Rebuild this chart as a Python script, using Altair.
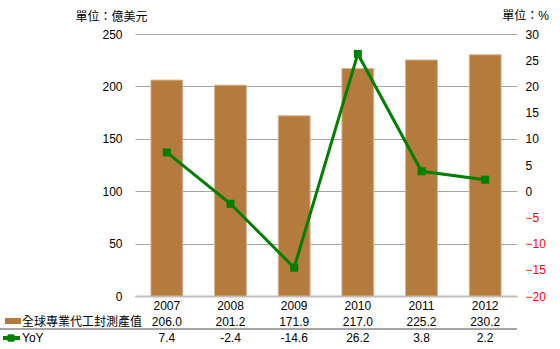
import altair as alt
import pandas as pd

years = ["2007", "2008", "2009", "2010", "2011", "2012"]
output_values = [206.0, 201.2, 171.9, 217.0, 225.2, 230.2]
yoy_values = [7.4, -2.4, -14.6, 26.2, 3.8, 2.2]
left_ticks = [0, 50, 100, 150, 200, 250]
right_ticks = [-20, -15, -10, -5, 0, 5, 10, 15, 20, 25, 30]
series_bar = "全球專業代工封測產值"
series_line = "YoY"

df = pd.DataFrame({
    "year": years,
    "value": output_values,
    "yoy": yoy_values,
})
df["value_label"] = [f"{v:.1f}" for v in output_values]
df["yoy_label"] = [f"{v:.1f}" for v in yoy_values]

FONT = "Liberation Sans, Noto Sans CJK TC"
W, H = 382, 262

xenc = alt.X("year:N", sort=years,
             scale=alt.Scale(paddingInner=0.5, paddingOuter=0.25),
             axis=alt.Axis(title=None, labelAngle=0, ticks=False, domain=True,
                           domainColor="#C0C0C0", domainWidth=2,
                           labelPadding=4, labelFontSize=12, labelColor="black",
                           labelFont=FONT))

bars = alt.Chart(df).mark_bar(color="#B57A3E", stroke="#D8B48E", strokeWidth=1).encode(
    x=xenc,
    y=alt.Y("value:Q", scale=alt.Scale(domain=[0, 250], nice=False),
            axis=alt.Axis(values=left_ticks, title="單位：億美元", titleAngle=0,
                          titleX=-24, titleY=-18, titleAlign="center",
                          titleBaseline="middle", titleFontWeight="normal",
                          titleFontSize=12, titleFont=FONT, titleColor="black",
                          ticks=False, domain=False, labelPadding=13,
                          labelFontSize=12, labelFont=FONT, labelColor="black",
                          grid=True, gridColor="#A6A6A6", gridWidth=1)),
)

yoy_y = alt.Y("yoy:Q", scale=alt.Scale(domain=[-20, 30], nice=False),
              axis=alt.Axis(values=right_ticks, orient="right", title="單位：%",
                            titleAngle=0, titleX=8, titleY=-19, titleAlign="center",
                            titleBaseline="middle", titleFontWeight="normal",
                            titleFontSize=12, titleFont=FONT, titleColor="black",
                            ticks=False, domain=False, grid=False, labelPadding=8,
                            labelFontSize=12, labelFont=FONT,
                            labelColor={"condition": {"test": "datum.value < 0", "value": "#FF0000"},
                                        "value": "black"}))

line = alt.Chart(df).mark_line(color="#008000", strokeWidth=3).encode(x=xenc, y=yoy_y)
pts = alt.Chart(df).mark_point(shape="square", filled=True, color="#008000",
                               size=64, opacity=1).encode(x=xenc, y=yoy_y)

right = alt.layer(line, pts)

row1 = alt.Chart(df).mark_text(font=FONT, fontSize=12, color="black", baseline="middle").encode(
    x=alt.X("year:N", sort=years), y=alt.value(288), text="value_label:N")
row2 = alt.Chart(df).mark_text(font=FONT, fontSize=12, color="black", baseline="middle").encode(
    x=alt.X("year:N", sort=years), y=alt.value(304), text="yoy_label:N")

sep = alt.Chart(df).mark_rule(color="#A6A6A6", strokeWidth=2).encode(
    x=alt.value(-135), x2=alt.value(W), y=alt.value(295))

leg_rect = alt.Chart(df).mark_rect(color="#B57A3E").encode(
    x=alt.value(-130), x2=alt.value(-114), y=alt.value(284), y2=alt.value(290))
leg_line = alt.Chart(df).mark_rule(color="#008000", strokeWidth=3).encode(
    x=alt.value(-132), x2=alt.value(-115), y=alt.value(304))
leg_pt = alt.Chart(df).mark_point(shape="square", filled=True, color="#008000",
                                  size=40, opacity=1).encode(
    x=alt.value(-124), y=alt.value(304))

leg_df = pd.DataFrame({"label": [series_bar, series_line], "ypos": [288, 304]})
leg_text = alt.Chart(leg_df).mark_text(font=FONT, fontSize=12, color="black",
                                       align="left", baseline="middle").encode(
    x=alt.value(-113), y=alt.Y("ypos:Q", scale=None), text="label:N")

chart = alt.layer(
    bars, right, row1, row2, sep, leg_rect, leg_line, leg_pt, leg_text
).resolve_scale(y="independent").properties(
    width=W, height=H,
    autosize=alt.AutoSizeParams(type="none"),
    padding={"left": 135, "top": 34, "right": 43, "bottom": 53},
).configure_view(stroke=None)

chart.save("out.html", embed_options={"renderer": "svg", "actions": False})
